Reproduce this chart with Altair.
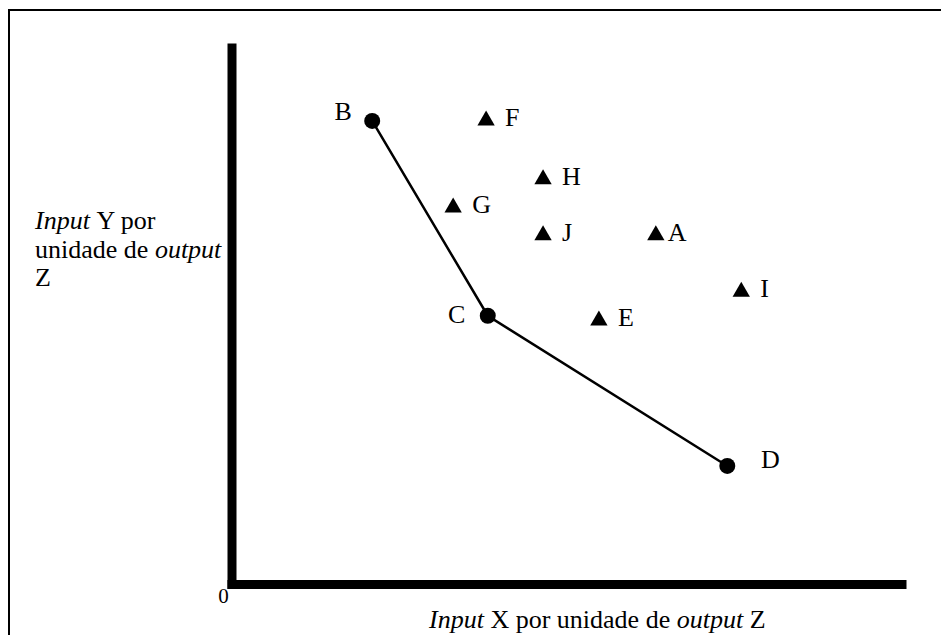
import altair as alt
import pandas as pd

# ---------------- data ----------------
circle_names = ["B", "C", "D"]
circle_x = [2.52, 4.59, 8.88]
circle_y = [8.20, 4.75, 2.09]

tri_names = ["F", "H", "G", "J", "A", "I", "E"]
tri_x = [4.56, 5.58, 3.97, 5.58, 7.60, 9.13, 6.58]
tri_y = [8.25, 7.21, 6.71, 6.22, 6.22, 5.22, 4.71]

x_domain = [0, 12]
y_domain = [0, 9.5]
x_tick_values = [0]

x_title_parts = ["Input", "X por unidade de", "output", "Z"]
x_title_italic = [True, False, True, False]
y_title_parts = ["Input", "Y por", "unidade de", "output", "Z"]
y_title_italic = [True, False, False, True, False]

# ---------------- layout ----------------
W, H = 670, 536.5
OX, OY = 231.5, 47.5          # page position of the plot origin
FONT = "Times New Roman, Liberation Serif, serif"

circles = pd.DataFrame({"name": circle_names, "x": circle_x, "y": circle_y})
tris = pd.DataFrame({"name": tri_names, "x": tri_x, "y": tri_y})

xs = alt.Scale(domain=x_domain, nice=False, zero=False)
ys = alt.Scale(domain=y_domain, nice=False, zero=False)

x_axis = alt.Axis(values=x_tick_values, ticks=False, tickSize=0, grid=False,
                  domain=True, domainColor="black", domainWidth=9, domainCap="square",
                  labelFont=FONT, labelFontSize=21, labelColor="black",
                  labelPadding=12, labelBaseline="middle", labelAlign="center",
                  labelOffset=-8.5, labelFlush=False, format="d", title=None)
y_axis = alt.Axis(labels=False, ticks=False, grid=False, domain=True,
                  domainColor="black", domainWidth=9, domainCap="square", title=None)

X = alt.X("x:Q", scale=xs, axis=x_axis)
Y = alt.Y("y:Q", scale=ys, axis=y_axis)

line = alt.Chart(circles).mark_line(color="black", strokeWidth=2.5).encode(x=X, y=Y)
dots = alt.Chart(circles).mark_point(shape="circle", filled=True, size=255,
                                     color="black", opacity=1).encode(x=X, y=Y)
tri_marks = alt.Chart(tris).mark_point(shape="triangle-up", filled=True, size=300,
                                       color="black", opacity=1).encode(x=X, y=Y)

def label_layer(df, name_filter, dx, dy, align="center"):
    return (alt.Chart(df).transform_filter(name_filter)
            .mark_text(font=FONT, fontSize=26, color="black", align=align,
                       baseline="middle", dx=dx, dy=dy)
            .encode(x=X, y=Y, text="name:N"))

lab_B = label_layer(circles, alt.datum.name == "B", -29, -9)
lab_C = label_layer(circles, alt.datum.name == "C", -31, -1)
lab_D = label_layer(circles, alt.datum.name == "D", 43, -6)
lab_tri = label_layer(tris, alt.datum.name != "A", 19, 0, align="left")
lab_A = label_layer(tris, alt.datum.name == "A", 12, 0, align="left")

def seg(text, italic, px, py):
    return (alt.Chart(pd.DataFrame({"t": [text]}))
            .mark_text(font=FONT, fontSize=26, color="black", align="left",
                       baseline="alphabetic", fontStyle="italic" if italic else "normal")
            .encode(text="t:N", x=alt.value(px - OX), y=alt.value(py - OY)))

# x title segments (page coordinates)
x_pos = [429, 490.4, 676.7, 749.7]
x_base = 628
x_title = [seg(t, it, px, x_base) for t, it, px in zip(x_title_parts, x_title_italic, x_pos)]

# y title segments (page coordinates)
y_pos = [(35, 228.5), (96.4, 228.5), (35, 257.5), (154.9, 257.5), (35, 286)]
y_title = [seg(t, it, p[0], p[1]) for t, it, p in zip(y_title_parts, y_title_italic, y_pos)]

border = (alt.Chart(pd.DataFrame({"k": [0]}))
          .mark_rect(fillOpacity=0, stroke="black", strokeWidth=2)
          .encode(x=alt.value(9 - OX), x2=alt.value(960 - OX),
                  y=alt.value(10 - OY), y2=alt.value(660 - OY)))

chart = alt.layer(border, line, dots, tri_marks, lab_B, lab_C, lab_D, lab_tri, lab_A,
                  *x_title, *y_title).properties(
    width=W, height=H,
    padding={"left": OX - 8, "top": OY - 8, "right": 933 - (OX - 8) - W,
             "bottom": 627 - (OY - 8) - H},
    autosize=alt.AutoSizeParams(type="none"),
    background="white",
).configure_view(stroke=None)

chart.save("out.html", embed_options={"renderer": "svg", "actions": False})
